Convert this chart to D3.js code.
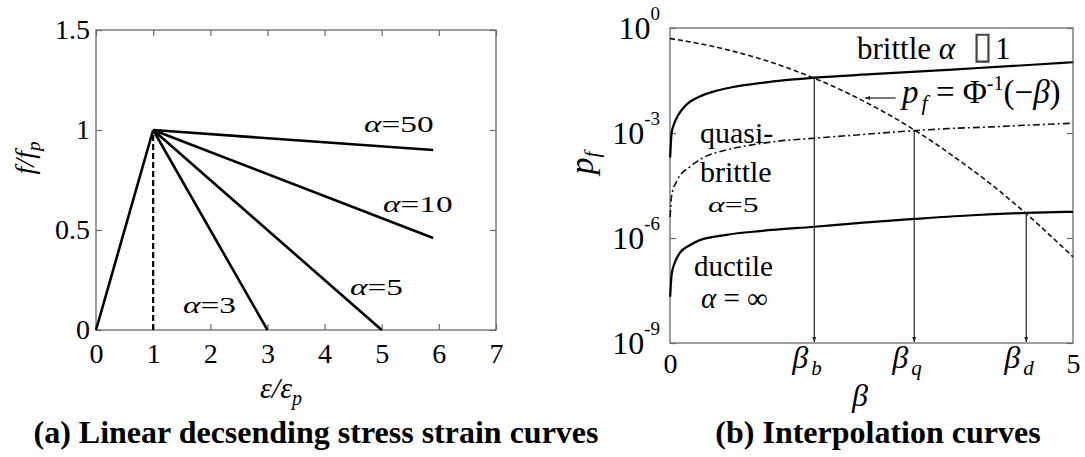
<!DOCTYPE html>
<html>
<head>
<meta charset="utf-8">
<script src="https://cdn.jsdelivr.net/npm/d3@7"></script>
<style>
  body { margin: 0; background: #fff; }
  svg { display: block; }
</style>
</head>
<body>
<svg id="chart" width="1085" height="457"></svg>
<script>
// ---- (a) linear descending stress-strain curves ----
var strainTicks = [0, 1, 2, 3, 4, 5, 6, 7];
var stressTicks = [0, 0.5, 1, 1.5];
var peakPoint = [1, 1];
var alphaNames = ["50", "10", "5", "3"];
var endStrain = [5.9, 5.9, 5.0, 3.0];
var endStress = [0.90, 0.46, 0.0, 0.0];

// ---- (b) interpolation curves ----
var normalBeta = [0, 0.25, 0.5, 0.75, 1, 1.25, 1.5, 1.75, 2, 2.25, 2.5, 2.75, 3, 3.25, 3.5, 3.75, 4, 4.25, 4.5, 4.75, 5];
var normalPf = [0.5, 0.40, 0.31, 0.227, 0.159, 0.106, 0.067, 0.040, 0.0228, 0.0122, 0.0062, 0.0030, 0.00135,
                5.8e-4, 2.3e-4, 8.8e-5, 3.2e-5, 1.07e-5, 3.4e-6, 1.0e-6, 2.9e-7];

var brittleBeta = [0.002, 0.02, 0.05, 0.1, 0.2, 0.37, 0.6, 0.8, 1.0, 1.4, 1.79, 2.5, 3.0, 3.5, 4.0, 4.5, 5.0];
var brittlePf = [2.0e-4, 1.0e-3, 1.8e-3, 3.2e-3, 6.3e-3, 1.1e-2, 1.66e-2, 2.1e-2, 2.45e-2, 3.2e-2, 3.8e-2,
                 4.8e-2, 5.6e-2, 6.5e-2, 7.6e-2, 8.9e-2, 0.105];

var quasiBeta = [0.002, 0.02, 0.09, 0.25, 0.4, 0.7, 1.0, 1.33, 1.79, 2.4, 3.03, 3.5, 4.0, 4.5, 5.0];
var quasiPf = [4.0e-6, 1.6e-5, 4.5e-5, 1.1e-4, 1.9e-4, 3.3e-4, 4.5e-4, 5.8e-4, 7.1e-4, 9.1e-4, 1.17e-3,
               1.35e-3, 1.5e-3, 1.7e-3, 1.9e-3];

var ductileBeta = [0.002, 0.02, 0.06, 0.12, 0.25, 0.37, 0.7, 1.12, 1.79, 2.4, 3.03, 3.7, 4.42, 5.0];
var ductilePf = [2.1e-8, 8.9e-8, 2.0e-7, 3.7e-7, 6.3e-7, 8.7e-7, 1.23e-6, 1.58e-6, 2.1e-6, 2.75e-6, 3.5e-6,
                 4.4e-6, 5.2e-6, 5.6e-6];

var crossBeta = [1.79, 3.03, 4.42];
var crossPf = [0.038, 1.17e-3, 5.2e-6];
var crossNames = ["b", "q", "d"];
var pfTicks = [1, 1e-3, 1e-6, 1e-9];
var pfExponents = ["0", "-3", "-6", "-9"];
var betaTicks = [0, 5];

var svg = d3.select("#chart");
var frameColor = "#6b6b6b";
var serif = "Liberation Serif";

svg.append("defs").append("marker")
    .attr("id", "head")
    .attr("viewBox", "0 0 10 10")
    .attr("refX", 10).attr("refY", 5)
    .attr("markerWidth", 5).attr("markerHeight", 7)
    .attr("markerUnits", "userSpaceOnUse")
    .attr("orient", "auto")
  .append("path")
    .attr("d", "M0,1 L10,5 L0,9 z")
    .attr("fill", "#222");

function styleAxis(g, showText) {
    g.select(".domain").remove();
    g.attr("font-family", serif);
    g.selectAll(".tick line").attr("stroke", frameColor).attr("stroke-width", 1.2);
    if (!showText) g.selectAll(".tick text").remove();
}

// ================= panel (a) =================
var xa = d3.scaleLinear().domain([0, 7]).range([96, 496]);
var ya = d3.scaleLinear().domain([0, 1.5]).range([330, 30]);

var ga = svg.append("g");

ga.append("g").attr("transform", "translate(0,330)")
    .call(d3.axisBottom(xa).tickValues(strainTicks).tickFormat(d3.format("d")).tickSizeInner(-6).tickSizeOuter(0).tickPadding(13))
    .call(styleAxis, true);
ga.append("g").attr("transform", "translate(0,30)")
    .call(d3.axisTop(xa).tickValues(strainTicks).tickSizeInner(-6).tickSizeOuter(0))
    .call(styleAxis, false);
ga.append("g").attr("transform", "translate(96,0)")
    .call(d3.axisLeft(ya).tickValues(stressTicks).tickFormat(function (d) { return d === 1.5 ? "1.5" : d3.format("")(d); })
          .tickSizeInner(-6).tickSizeOuter(0).tickPadding(6))
    .call(styleAxis, true);
ga.append("g").attr("transform", "translate(496,0)")
    .call(d3.axisRight(ya).tickValues(stressTicks).tickSizeInner(-6).tickSizeOuter(0))
    .call(styleAxis, false);

ga.selectAll(".tick text")
    .attr("font-size", 28)
    .attr("fill", "#000");

ga.append("rect")
    .attr("x", xa(0)).attr("y", ya(1.5))
    .attr("width", xa(7) - xa(0)).attr("height", ya(0) - ya(1.5))
    .attr("fill", "none").attr("stroke", frameColor).attr("stroke-width", 1.3);

var lineA = d3.line().x(function (d) { return xa(d[0]); }).y(function (d) { return ya(d[1]); });

// rising branch
ga.append("path")
    .attr("d", lineA([[0, 0], peakPoint]))
    .attr("fill", "none").attr("stroke", "#000").attr("stroke-width", 2.6);

// dashed guide under the peak
ga.append("path")
    .attr("d", lineA([[peakPoint[0], 0], peakPoint]))
    .attr("fill", "none").attr("stroke", "#000").attr("stroke-width", 2.2)
    .attr("stroke-dasharray", "6,3");

// descending branches
ga.selectAll(".desc")
    .data(alphaNames)
    .enter().append("path")
    .attr("class", "desc")
    .attr("d", function (d, i) { return lineA([peakPoint, [endStrain[i], endStress[i]]]); })
    .attr("fill", "none").attr("stroke", "#000").attr("stroke-width", 2.6);

// alpha labels (left x / baseline y in pixels)
var alphaLabelPos = [[364, 132], [383, 212], [350, 295], [183, 313]];
alphaNames.forEach(function (name, i) {
    var t = ga.append("text")
        .attr("transform", "translate(" + alphaLabelPos[i][0] + "," + alphaLabelPos[i][1] + ") scale(1.45,1)")
        .attr("font-size", 23);
    t.append("tspan").attr("font-style", "italic").text("\u03b1");
    t.append("tspan").text("=" + name);
});

// axis titles
var yTitleA = ga.append("text")
    .attr("transform", "translate(34,158) rotate(-90)")
    .attr("text-anchor", "middle")
    .attr("font-size", 28).attr("font-style", "italic");
yTitleA.append("tspan").text("f/f");
yTitleA.append("tspan").attr("font-size", 19).attr("dy", 6).text("p");

var xTitleA = ga.append("text")
    .attr("x", 260).attr("y", 398)
    .attr("font-size", 30).attr("font-style", "italic");
xTitleA.append("tspan").text("\u03b5/\u03b5");
xTitleA.append("tspan").attr("font-size", 20).attr("dy", 7).text("p");

svg.append("text")
    .attr("x", 316).attr("y", 443)
    .attr("text-anchor", "middle")
    .attr("font-size", 32).attr("font-weight", "bold")
    .text("(a) Linear decsending stress strain curves");

// ================= panel (b) =================
var xb = d3.scaleLinear().domain([0, 5]).range([670, 1073]);
var yb = d3.scaleLog().domain([1e-9, 1]).range([343, 28]);

var gb = svg.append("g");

var leftAxisB = gb.append("g").attr("transform", "translate(670,0)")
    .call(d3.axisLeft(yb).tickValues(pfTicks).tickSizeInner(-6).tickSizeOuter(0).tickPadding(10))
    .call(styleAxis, true);
leftAxisB.selectAll(".tick text").each(function (d, i) {
    var t = d3.select(this).text("")
        .attr("font-size", 32).attr("fill", "#000")
        .attr("dy", "0.34em");
    t.append("tspan").text("10");
    t.append("tspan").attr("font-size", 19).attr("dy", -19).text(pfExponents[i]);
});
gb.append("g").attr("transform", "translate(1073,0)")
    .call(d3.axisRight(yb).tickValues(pfTicks).tickSizeInner(-6).tickSizeOuter(0))
    .call(styleAxis, false);

var bottomAxisB = gb.append("g").attr("transform", "translate(0,343)")
    .call(d3.axisBottom(xb).tickValues(betaTicks).tickFormat(d3.format("d")).tickSizeInner(0).tickSizeOuter(0).tickPadding(10))
    .call(styleAxis, true);
bottomAxisB.selectAll(".tick text")
    .attr("font-size", 28).attr("fill", "#000");

gb.append("rect")
    .attr("x", xb(0)).attr("y", yb(1))
    .attr("width", xb(5) - xb(0)).attr("height", yb(1e-9) - yb(1))
    .attr("fill", "none").attr("stroke", frameColor).attr("stroke-width", 1.3);

function curveB(betas, pfs) {
    return d3.line()
        .x(function (d, i) { return xb(betas[i]); })
        .y(function (d, i) { return yb(pfs[i]); })
        .curve(d3.curveMonotoneX)(betas);
}

gb.append("path").attr("d", curveB(normalBeta, normalPf))
    .attr("fill", "none").attr("stroke", "#111").attr("stroke-width", 1.6)
    .attr("stroke-dasharray", "5,3");
gb.append("path").attr("d", curveB(quasiBeta, quasiPf))
    .attr("fill", "none").attr("stroke", "#111").attr("stroke-width", 1.6)
    .attr("stroke-dasharray", "7,3,2,3");
gb.append("path").attr("d", curveB(brittleBeta, brittlePf))
    .attr("fill", "none").attr("stroke", "#000").attr("stroke-width", 2.2);
gb.append("path").attr("d", curveB(ductileBeta, ductilePf))
    .attr("fill", "none").attr("stroke", "#000").attr("stroke-width", 2.2);

// drop arrows from the intersections
gb.selectAll(".drop")
    .data(crossBeta)
    .enter().append("line")
    .attr("class", "drop")
    .attr("x1", function (d) { return xb(d); })
    .attr("x2", function (d) { return xb(d); })
    .attr("y1", function (d, i) { return yb(crossPf[i]); })
    .attr("y2", yb(1e-9) - 1)
    .attr("stroke", "#222").attr("stroke-width", 1.2)
    .attr("marker-end", "url(#head)");

// beta_b, beta_q, beta_d labels
crossBeta.forEach(function (b, i) {
    var t = gb.append("text")
        .attr("x", xb(b) - 22).attr("y", 368)
        .attr("font-size", 32).attr("font-style", "italic");
    t.append("tspan").text("\u03b2");
    t.append("tspan").attr("font-size", 21).attr("dx", 3).attr("dy", 7).text(crossNames[i]);
});

// curve names
function plainText(x, y, parts, size) {
    var t = gb.append("text").attr("x", x).attr("y", y).attr("font-size", size || 30);
    parts.forEach(function (p) {
        var s = t.append("tspan").text(p[0]);
        if (p[1]) s.attr("font-style", "italic");
    });
    return t;
}
plainText(857, 59, [["brittle "], ["\u03b1", true]], 31);
gb.append("text").attr("x", 972).attr("y", 58).attr("font-size", 38)
    .attr("fill", "#444").text("\u25af");
plainText(995, 59, [["1"]], 31);

plainText(700, 143, [["quasi-"]], 30);
plainText(700, 182, [["brittle"]], 30);
gb.append("text")
    .attr("transform", "translate(708,212) scale(1.45,1)")
    .attr("font-size", 22)
    .call(function (t) {
        t.append("tspan").attr("font-style", "italic").text("\u03b1");
        t.append("tspan").text("=5");
    });
plainText(694, 276, [["ductile"]], 29);
plainText(701, 308, [["\u03b1", true], [" = \u221e"]], 29);

// pf = Phi^-1(-beta) annotation
gb.append("line")
    .attr("x1", xb(2.8)).attr("y1", yb(0.01))
    .attr("x2", xb(2.42)).attr("y2", yb(0.01))
    .attr("stroke", "#222").attr("stroke-width", 1.2)
    .attr("marker-end", "url(#head)");
var ann = gb.append("text").attr("x", 902).attr("y", 103).attr("font-size", 33);
ann.append("tspan").attr("font-style", "italic").text("p");
ann.append("tspan").attr("font-style", "italic").attr("font-size", 22).attr("dx", 3).attr("dy", 7).text("f");
ann.append("tspan").attr("dy", -7).text(" = \u03a6");
ann.append("tspan").attr("font-size", 20).attr("dy", -13).text("-1");
ann.append("tspan").attr("dy", 13).text("(\u2212");
ann.append("tspan").attr("font-style", "italic").text("\u03b2");
ann.append("tspan").text(")");

// axis titles
var yTitleB = gb.append("text")
    .attr("transform", "translate(593,163) rotate(-90)")
    .attr("text-anchor", "middle")
    .attr("font-size", 34).attr("font-style", "italic");
yTitleB.append("tspan").text("p");
yTitleB.append("tspan").attr("font-size", 21).attr("dy", 6).text("f");

gb.append("text")
    .attr("x", 860).attr("y", 406)
    .attr("text-anchor", "middle")
    .attr("font-size", 32).attr("font-style", "italic")
    .text("\u03b2");

svg.append("text")
    .attr("x", 878).attr("y", 443)
    .attr("text-anchor", "middle")
    .attr("font-size", 32).attr("font-weight", "bold")
    .text("(b) Interpolation curves");

// serif face on every text
svg.selectAll("text").style("font-family", "'Liberation Serif'");
</script>
</body>
</html>
